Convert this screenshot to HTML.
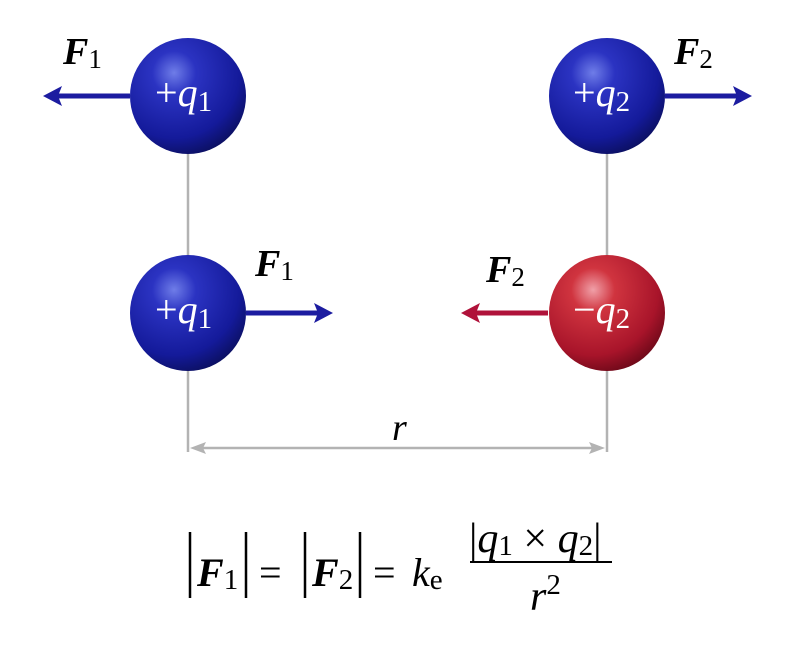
<!DOCTYPE html>
<html><head><meta charset="utf-8"><style>html,body{margin:0;padding:0;background:#fff}</style></head>
<body>
<svg width="800" height="640" viewBox="0 0 800 640" xmlns="http://www.w3.org/2000/svg">
<defs>
<radialGradient id="b" cx="0.38" cy="0.3" r="0.75">
<stop offset="0" stop-color="#6f7de8"/>
<stop offset="0.25" stop-color="#2b33c2"/>
<stop offset="0.75" stop-color="#141a9a"/>
<stop offset="1" stop-color="#0b0f5e"/>
</radialGradient>
<radialGradient id="r" cx="0.38" cy="0.3" r="0.75">
<stop offset="0" stop-color="#f0a0a8"/>
<stop offset="0.25" stop-color="#d0343f"/>
<stop offset="0.75" stop-color="#a8142a"/>
<stop offset="1" stop-color="#6a0818"/>
</radialGradient>
</defs>
<g stroke="#b3b3b3" stroke-width="2.5" fill="none">
<line x1="188" y1="150" x2="188" y2="260"/>
<line x1="188" y1="365" x2="188" y2="452"/>
<line x1="607" y1="150" x2="607" y2="260"/>
<line x1="607" y1="365" x2="607" y2="452"/>
<line x1="200" y1="448" x2="595" y2="448"/>
</g>
<polygon points="190,448 206,442 203,448 206,454" fill="#b3b3b3"/>
<polygon points="605,448 589,442 592,448 589,454" fill="#b3b3b3"/>
<g stroke="#1c1ca0" stroke-width="5">
<line x1="130" y1="96" x2="58" y2="96"/>
<line x1="665" y1="96" x2="737" y2="96"/>
<line x1="246" y1="313" x2="318" y2="313"/>
</g>
<g fill="#1c1ca0">
<polygon points="43,96 62,86 58,96 62,106"/>
<polygon points="752,96 733,86 737,96 733,106"/>
<polygon points="333,313 314,303 318,313 314,323"/>
</g>
<line x1="548" y1="313" x2="476" y2="313" stroke="#b0123a" stroke-width="5"/>
<polygon points="461,313 480,303 476,313 480,323" fill="#b0123a"/>
<circle cx="188" cy="96" r="58" fill="url(#b)"/>
<circle cx="607" cy="96" r="58" fill="url(#b)"/>
<circle cx="188" cy="313" r="58" fill="url(#b)"/>
<circle cx="607" cy="313" r="58" fill="url(#r)"/>
<g font-family="Liberation Serif, serif" fill="#fff" font-size="40">
<text x="155" y="106">+<tspan font-style="italic">q</tspan><tspan font-size="29" dy="5">1</tspan></text>
<text x="573" y="106">+<tspan font-style="italic">q</tspan><tspan font-size="29" dy="5">2</tspan></text>
<text x="155" y="323">+<tspan font-style="italic">q</tspan><tspan font-size="29" dy="5">1</tspan></text>
<text x="573" y="323">−<tspan font-style="italic">q</tspan><tspan font-size="29" dy="5">2</tspan></text>
</g>
<g font-family="Liberation Serif, serif" fill="#000" font-size="38">
<text x="63" y="64" font-weight="bold" font-style="italic">F<tspan font-weight="normal" font-style="normal" font-size="27" dy="4">1</tspan></text>
<text x="674" y="64" font-weight="bold" font-style="italic">F<tspan font-weight="normal" font-style="normal" font-size="27" dy="4">2</tspan></text>
<text x="255" y="276" font-weight="bold" font-style="italic">F<tspan font-weight="normal" font-style="normal" font-size="27" dy="4">1</tspan></text>
<text x="486" y="282" font-weight="bold" font-style="italic">F<tspan font-weight="normal" font-style="normal" font-size="27" dy="4">2</tspan></text>
<text x="392" y="440" font-style="italic">r</text>
</g>
<g font-family="Liberation Serif, serif" fill="#000">
<line x1="190" y1="532" x2="190" y2="598" stroke="#000" stroke-width="2.5"/>
<line x1="246" y1="532" x2="246" y2="598" stroke="#000" stroke-width="2.5"/>
<line x1="305" y1="532" x2="305" y2="598" stroke="#000" stroke-width="2.5"/>
<line x1="360" y1="532" x2="360" y2="598" stroke="#000" stroke-width="2.5"/>
<text x="197" y="586" font-size="40" font-weight="bold" font-style="italic">F<tspan font-weight="normal" font-style="normal" font-size="29" dy="3">1</tspan></text>
<text x="312" y="586" font-size="40" font-weight="bold" font-style="italic">F<tspan font-weight="normal" font-style="normal" font-size="29" dy="3">2</tspan></text>
<text x="259" y="586" font-size="40">=</text>
<text x="373" y="586" font-size="40">=</text>
<text x="412" y="586" font-size="40" font-style="italic">k<tspan font-style="normal" font-size="29" dy="3">e</tspan></text>
<text x="469" y="552" font-size="42">|<tspan font-style="italic">q</tspan><tspan font-size="29" dy="3">1</tspan><tspan dy="-3"> × </tspan><tspan font-style="italic">q</tspan><tspan font-size="29" dy="3">2</tspan><tspan dy="-3">|</tspan></text>
<line x1="470" y1="562" x2="612" y2="562" stroke="#000" stroke-width="2"/>
<text x="530" y="610" font-size="42" font-style="italic">r<tspan font-style="normal" font-size="29" dy="-16">2</tspan></text>
</g>
</svg>
</body></html>
